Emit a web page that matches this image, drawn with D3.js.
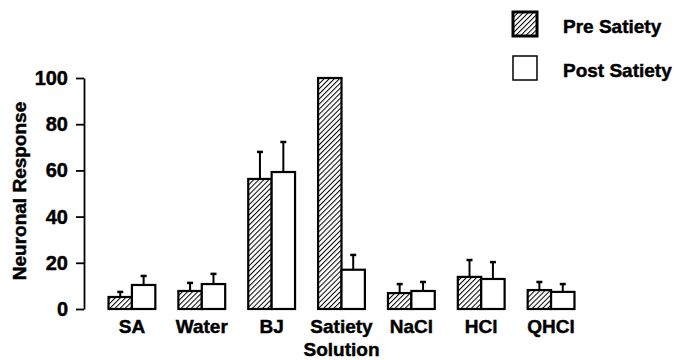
<!DOCTYPE html>
<html>
<head>
<meta charset="utf-8">
<script src="https://cdn.jsdelivr.net/npm/d3@7"></script>
<style>
  body { margin: 0; background: #fff; }
  text { font-family: "Liberation Sans", Arial, sans-serif; font-weight: bold; fill: #000; stroke: #000; stroke-width: 0.45px; }
</style>
</head>
<body>
<div id="chart"></div>
<script>
var categories = ["SA", "Water", "BJ", "Satiety", "NaCl", "HCl", "QHCl"];
var series = ["Pre Satiety", "Post Satiety"];
var preValues  = [5.2, 7.8, 56.3, 100, 6.9, 13.9, 8.2];
var preErrors  = [2.2, 3.5, 11.7, 0, 3.9, 7.3, 3.5];
var postValues = [10.4, 10.8, 59.3, 17, 7.8, 13, 7.4];
var postErrors = [3.9, 4.4, 13, 6.4, 3.9, 7.3, 3.4];
var yTicks = [0, 20, 40, 60, 80, 100];

var width = 681, height = 360;

var svg = d3.select("#chart").append("svg")
    .attr("width", width)
    .attr("height", height);

// diagonal hatch
var defs = svg.append("defs");
defs.append("pattern")
    .attr("id", "hatch")
    .attr("patternUnits", "userSpaceOnUse")
    .attr("width", 3.6)
    .attr("height", 3.6)
    .attr("patternTransform", "rotate(45)")
  .append("line")
    .attr("x1", 0).attr("y1", 0)
    .attr("x2", 0).attr("y2", 3.6)
    .attr("stroke", "#000")
    .attr("stroke-width", 2);

var x0 = d3.scaleBand().domain(categories).range([97, 586])
    .paddingInner(0.33).paddingOuter(0.165);
var x1 = d3.scaleBand().domain(series).range([0, x0.bandwidth()]);
var y = d3.scaleLinear().domain([0, 100]).range([309, 78]);

var rows = categories.map(function(c, i) {
  return [
    {cat: c, s: series[0], v: preValues[i], e: preErrors[i]},
    {cat: c, s: series[1], v: postValues[i], e: postErrors[i]}
  ];
});
var bars = [].concat.apply([], rows);

// error bars (behind bars)
var err = svg.append("g").selectAll("g")
  .data(bars.filter(d => d.e > 0))
  .enter().append("g")
  .attr("transform", d => `translate(${x0(d.cat) + x1(d.s) + x1.bandwidth() / 2},0)`);
err.append("line")
  .attr("y1", d => y(d.v)).attr("y2", d => y(d.v + d.e))
  .attr("stroke", "#000").attr("stroke-width", 2);
err.append("line")
  .attr("x1", -3).attr("x2", 3)
  .attr("y1", d => y(d.v + d.e)).attr("y2", d => y(d.v + d.e))
  .attr("stroke", "#000").attr("stroke-width", 2.5);

svg.append("g").selectAll("rect")
  .data(bars)
  .enter().append("rect")
  .attr("x", d => x0(d.cat) + x1(d.s))
  .attr("y", d => y(d.v))
  .attr("width", x1.bandwidth())
  .attr("height", d => y(0) - y(d.v))
  .attr("fill", d => d.s === series[0] ? "url(#hatch)" : "#fff")
  .attr("stroke", "#000")
  .attr("stroke-width", 2.2);

// y axis
var yAxis = svg.append("g")
  .attr("transform", "translate(84,0)")
  .call(d3.axisLeft(y).tickValues(yTicks).tickSize(8).tickSizeOuter(0).tickPadding(8));
yAxis.select(".domain").attr("stroke-width", 1.8);
yAxis.selectAll(".tick line").attr("stroke-width", 1.8);
yAxis.selectAll(".tick text")
  .style("font-size", "20px")
  .style("font-family", "'Liberation Sans', Arial, sans-serif")
  .style("font-weight", "bold")
  .attr("fill", "#000");

// x labels
svg.append("g").selectAll("text")
  .data(categories)
  .enter().append("text")
  .attr("x", d => x0(d) + x0.bandwidth() / 2)
  .attr("y", 333)
  .attr("text-anchor", "middle")
  .style("font-size", "19px")
  .text(d => d);

svg.append("text")
  .attr("x", x0("Satiety") + x0.bandwidth() / 2)
  .attr("y", 356)
  .attr("text-anchor", "middle")
  .style("font-size", "19px")
  .text("Solution");

svg.append("text")
  .attr("transform", "translate(26,191) rotate(-90)")
  .attr("text-anchor", "middle")
  .style("font-size", "19px")
  .text("Neuronal Response");

// legend
var legend = svg.append("g").selectAll("g")
  .data(series)
  .enter().append("g")
  .attr("transform", (d, i) => `translate(513,${12 + i * 44})`);
legend.append("rect")
  .attr("width", 24).attr("height", 24)
  .attr("fill", (d, i) => i === 0 ? "url(#hatch)" : "#fff")
  .attr("stroke", "#000")
  .attr("stroke-width", (d, i) => i === 0 ? 3 : 1.5);
legend.append("text")
  .attr("x", 50)
  .attr("y", 14)
  .attr("dy", "0.35em")
  .style("font-size", "19px")
  .text(d => d);
</script>
</body>
</html>
